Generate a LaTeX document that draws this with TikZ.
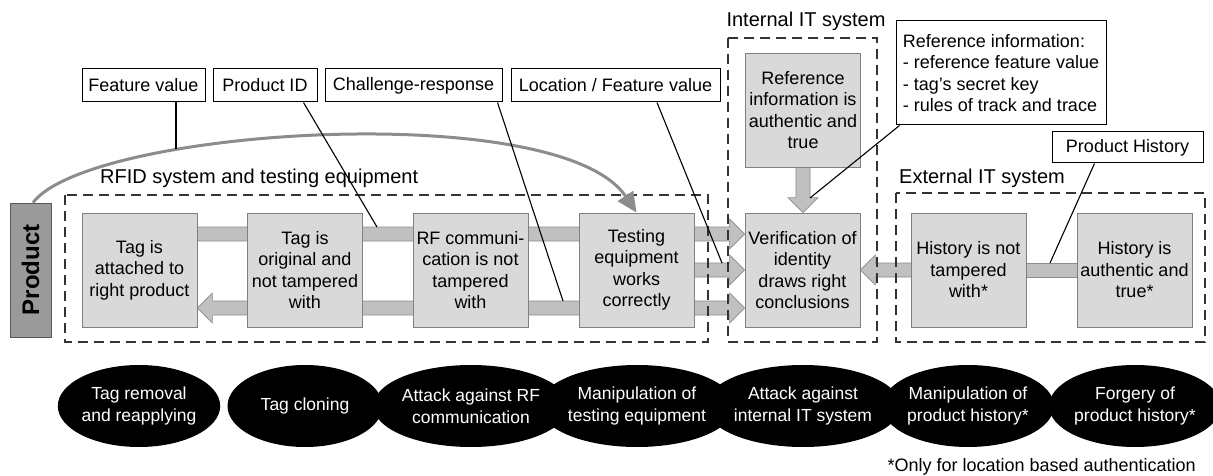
\documentclass[tikz,border=0pt]{standalone}
\usepackage{fontspec}
\setmainfont{Liberation Sans}
\usetikzlibrary{calc,arrows.meta,shapes.geometric}

\definecolor{boxfill}{HTML}{D9D9D9}
\definecolor{boxline}{HTML}{808080}
\definecolor{barfill}{HTML}{C0C0C0}
\definecolor{barline}{HTML}{8C8C8C}
\definecolor{prodfill}{HTML}{9A9A9A}
\definecolor{prodline}{HTML}{595959}
\definecolor{curvecol}{HTML}{8C8C8C}
\definecolor{framecol}{HTML}{333333}

\pgfdeclarelayer{bg}
\pgfsetlayers{bg,main}

% wide block arrows: shaft from #1, tip at #2
\newcommand\shaftR[2]{\filldraw[barstyle] let \p1=(#1), \p2=(#2) in
  (\x1,\y1+7pt) -- (\x2-15pt,\y1+7pt) -- (\x2-15pt,\y1+15pt) -- (\x2,\y1)
  -- (\x2-15pt,\y1-15pt) -- (\x2-15pt,\y1-7pt) -- (\x1,\y1-7pt) -- cycle;}
\newcommand\shaftL[2]{\filldraw[barstyle] let \p1=(#1), \p2=(#2) in
  (\x1,\y1+7pt) -- (\x2+15pt,\y1+7pt) -- (\x2+15pt,\y1+15pt) -- (\x2,\y1)
  -- (\x2+15pt,\y1-15pt) -- (\x2+15pt,\y1-7pt) -- (\x1,\y1-7pt) -- cycle;}
\newcommand\shaftD[2]{\filldraw[barstyle] let \p1=(#1), \p2=(#2) in
  (\x1-7pt,\y1) -- (\x1-7pt,\y2+15pt) -- (\x1-15pt,\y2+15pt) -- (\x1,\y2)
  -- (\x1+15pt,\y2+15pt) -- (\x1+7pt,\y2+15pt) -- (\x1+7pt,\y1) -- cycle;}
\newcommand\shaftP[2]{\filldraw[barstyle] let \p1=(#1), \p2=(#2) in
  (\x1,\y1+7pt) rectangle (\x2,\y1-7pt);}

\begin{document}
\begin{tikzpicture}[x=1pt,y=-1pt,
  font=\fontsize{18}{21.5}\selectfont,
  stepbox/.style={draw=boxline, fill=boxfill, line width=0.8pt,
    minimum width=115pt, minimum height=114pt, inner sep=0pt, align=center},
  tagbox/.style={draw=black, fill=white, line width=1pt,
    minimum height=33pt, inner sep=0pt},
  threat/.style={ellipse, fill=black, text=white, minimum width=155pt,
    minimum height=82pt, inner sep=0pt, align=center,
    font=\fontsize{17.5}{22}\selectfont},
  zone/.style={draw=framecol, line width=1.3pt, dash pattern=on 10pt off 6pt},
  zonelabel/.style={font=\fontsize{20}{24}\selectfont, inner sep=0pt},
  barstyle/.style={fill=barfill, draw=barline, line width=0.6pt},
  lead/.style={draw=black, line width=1.1pt}]

\useasboundingbox (0,0) rectangle (1213,476);

% product
\node[draw=prodline, fill=prodfill, line width=0.8pt, minimum width=41pt,
  minimum height=134pt, inner sep=0pt] (prod) at (30.5,270) {};
\node[rotate=90, font=\fontsize{24}{28}\selectfont\bfseries, inner sep=0pt]
  (prodtext) at (prod.center) {Product};

% security goals
\node[stepbox] (b1) at (139.5,270) {Tag is\\attached to\\right product};
\node[stepbox] (b2) at (305,270) {Tag is\\original and\\not tampered\\with};
\node[stepbox] (b3) at (470.5,270) {RF communi-\\cation is not\\tampered\\with};
\node[stepbox] (b4) at (636.5,270) {Testing\\equipment\\works\\correctly};
\node[stepbox] (b5) at (802.5,270) {Verification of\\identity\\draws right\\conclusions};
\node[stepbox] (b6) at (968.5,270) {History is not\\tampered\\with*};
\node[stepbox] (b7) at (1134.5,270) {History is\\authentic and\\true*};
\node[stepbox] (bref) at (803,110) {Reference\\information is\\authentic and\\true};

% flows between the goals
\begin{pgfonlayer}{bg}
\shaftR{$(b1.center)+(0,-36)$}{$(b5.west)+(0,-36)$}
\shaftL{$(b4.center)+(0,38)$}{$(b1.east)+(0,38)$}
\shaftR{b4.center}{b5.west}
\shaftR{$(b4.center)+(0,38)$}{$(b5.west)+(0,38)$}
\shaftD{bref.center}{b5.north}
\shaftL{b6.center}{b5.east}
\shaftP{b7.center}{b6.center}
\end{pgfonlayer}

% system boundaries
\draw[zone] (65,195) rectangle (708,342);
\draw[zone] (728,38) rectangle (877,342);
\draw[zone] (896,193) rectangle (1205,342);
\node[zonelabel, anchor=west] (zrfid) at (100,178) {RFID system and testing equipment};
\node[zonelabel] (zint) at (806,21) {Internal IT system};
\node[zonelabel] (zext) at (982,178) {External IT system};

% data labels
\node[tagbox, minimum width=123pt] (fv) at (143.5,85.5) {Feature value};
\node[tagbox, minimum width=104pt] (pid) at (265,85.5) {Product ID};
\node[tagbox, minimum width=177pt] (cr) at (413.5,85.5) {Challenge-response};
\node[tagbox, minimum width=209pt] (loc) at (615.5,85.5) {Location / Feature value};
\node[tagbox, minimum width=210pt, minimum height=104pt, align=left]
  (ri) at (1001,73) {Reference information:\\- reference feature value\\- tag’s secret key\\- rules of track and trace};
\node[tagbox, minimum width=151pt, minimum height=31pt] (ph) at (1127.5,147.5) {Product History};

% feature value path from the product to the testing equipment
\draw[curvecol, line width=3pt, -{Triangle[length=20pt,width=18pt]}]
  ($(prod.north)+(2.5,0)$) .. controls (90,128) and (560,98) .. (b4.north);

% leader lines
\coordinate (fvend) at (176,149);
\draw[lead] (fvend |- fv.south) -- (fvend);
\coordinate (pidend) at (377,227);
\draw[lead] ($(pid.south east)+(-14,0)$) -- (pidend);
\coordinate (crend) at (563,301);
\draw[lead] ($(cr.south east)+(-5,0)$) -- (crend);
\coordinate (locend) at (722,263);
\draw[lead] ($(loc.south)+(41.5,0)$) -- (locend);
\coordinate (riend) at (810,198);
\draw[lead] ($(ri.south west)+(4,0)$) -- (riend);
\coordinate (phend) at (1050,263);
\draw[lead] ($(ph.south west)+(43,0)$) -- (phend);

% attacks
\node[threat] (t1) at (139,406) {Tag removal\\and reapplying};
\node[threat] (t2) at (305,406) {Tag cloning};
\node[threat] (t3) at (471,406) {Attack against RF\\communication};
\node[threat] (t4) at (637,406) {Manipulation of\\testing equipment};
\node[threat] (t5) at (803,406) {Attack against\\internal IT system};
\node[threat] (t6) at (968,406) {Manipulation of\\product history*};
\node[threat] (t7) at (1135,406) {Forgery of\\product history*};

\node[anchor=east, inner sep=0pt] (note) at (1196,467) {*Only for location based authentication};
\end{tikzpicture}
\end{document}
